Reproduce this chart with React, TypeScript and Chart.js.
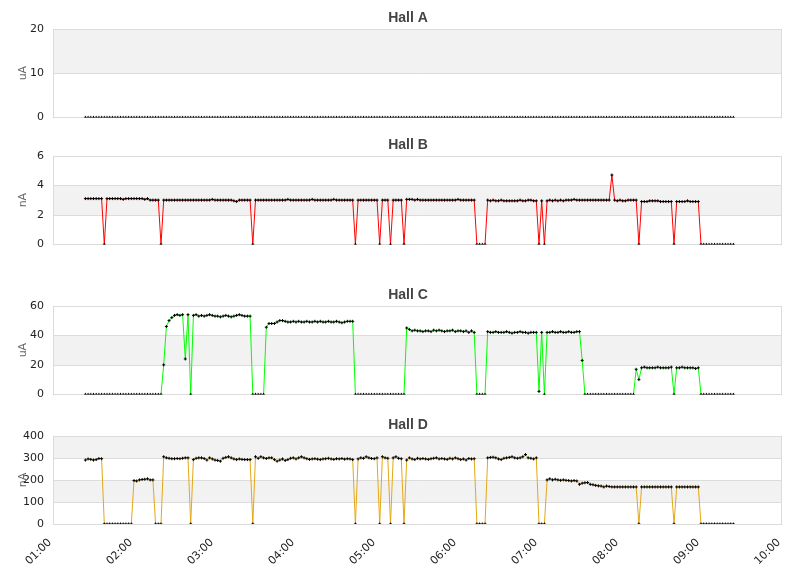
import React, { useEffect, useRef } from 'react';
import { Chart, registerables } from 'chart.js';
Chart.register(...registerables);

// sampling: first sample at 01:24, one sample every 2 minutes
const START_MIN = 84;
const STEP_MIN = 2;

const X_TICK_LABELS = ['01:00', '02:00', '03:00', '04:00', '05:00', '06:00', '07:00', '08:00', '09:00', '10:00'];

const hallA = [
  0, 0, 0, 0, 0, 0, 0, 0, 0, 0,
  0, 0, 0, 0, 0, 0, 0, 0, 0, 0,
  0, 0, 0, 0, 0, 0, 0, 0, 0, 0,
  0, 0, 0, 0, 0, 0, 0, 0, 0, 0,
  0, 0, 0, 0, 0, 0, 0, 0, 0, 0,
  0, 0, 0, 0, 0, 0, 0, 0, 0, 0,
  0, 0, 0, 0, 0, 0, 0, 0, 0, 0,
  0, 0, 0, 0, 0, 0, 0, 0, 0, 0,
  0, 0, 0, 0, 0, 0, 0, 0, 0, 0,
  0, 0, 0, 0, 0, 0, 0, 0, 0, 0,
  0, 0, 0, 0, 0, 0, 0, 0, 0, 0,
  0, 0, 0, 0, 0, 0, 0, 0, 0, 0,
  0, 0, 0, 0, 0, 0, 0, 0, 0, 0,
  0, 0, 0, 0, 0, 0, 0, 0, 0, 0,
  0, 0, 0, 0, 0, 0, 0, 0, 0, 0,
  0, 0, 0, 0, 0, 0, 0, 0, 0, 0,
  0, 0, 0, 0, 0, 0, 0, 0, 0, 0,
  0, 0, 0, 0, 0, 0, 0, 0, 0, 0,
  0, 0, 0, 0, 0, 0, 0, 0, 0, 0,
  0, 0, 0, 0, 0, 0, 0, 0, 0, 0,
  0, 0, 0, 0, 0, 0, 0, 0, 0, 0,
  0, 0, 0, 0, 0, 0, 0, 0, 0, 0,
  0, 0, 0, 0, 0, 0, 0, 0, 0, 0,
  0, 0, 0, 0, 0, 0, 0, 0, 0, 0,
  0,
];

const hallB = [
  3.1, 3.1, 3.1, 3.1, 3.1, 3.1, 3.1, 0, 3.1, 3.1,
  3.1, 3.1, 3.1, 3.1, 3.05, 3.1, 3.1, 3.1, 3.1, 3.1,
  3.1, 3.1, 3.05, 3.1, 3.0, 3.0, 3.0, 3.0, 0, 3.0,
  3.0, 3.0, 3.0, 3.0, 3.0, 3.0, 3.0, 3.0, 3.0, 3.0,
  3.0, 3.0, 3.0, 3.0, 3.0, 3.0, 3.0, 3.05, 3.0, 3.0,
  3.0, 3.0, 3.0, 3.0, 3.0, 2.95, 2.9, 3.0, 3.0, 3.0,
  3.0, 3.0, 0, 3.0, 3.0, 3.0, 3.0, 3.0, 3.0, 3.0,
  3.0, 3.0, 3.0, 3.0, 3.0, 3.05, 3.0, 3.0, 3.0, 3.0,
  3.0, 3.0, 3.0, 3.0, 3.05, 3.0, 3.0, 3.0, 3.0, 3.0,
  3.0, 3.0, 3.05, 3.0, 3.0, 3.0, 3.0, 3.0, 3.0, 3.0,
  0, 3.0, 3.0, 3.0, 3.0, 3.0, 3.0, 3.0, 3.0, 0,
  3.0, 3.0, 3.0, 0, 3.0, 3.0, 3.0, 3.0, 0, 3.05,
  3.05, 3.05, 3.0, 3.05, 3.0, 3.0, 3.0, 3.0, 3.0, 3.0,
  3.0, 3.0, 3.0, 3.0, 3.0, 3.0, 3.0, 3.0, 3.05, 3.0,
  3.0, 3.0, 3.0, 3.0, 3.0, 0, 0, 0, 0, 3.0,
  2.95, 3.0, 2.95, 2.95, 3.0, 2.95, 2.95, 2.95, 2.95, 2.95,
  2.95, 3.0, 2.95, 2.95, 3.0, 3.0, 2.95, 2.95, 0, 2.95,
  0, 2.95, 3.0, 2.95, 3.0, 2.95, 3.0, 2.95, 3.0, 3.0,
  3.0, 3.05, 3.0, 3.0, 3.0, 3.0, 3.0, 3.0, 3.0, 3.0,
  3.0, 3.0, 3.0, 3.0, 3.0, 4.7, 3.0, 2.95, 3.0, 2.95,
  2.95, 3.0, 3.0, 3.0, 3.0, 0, 2.9, 2.9, 2.9, 2.95,
  2.95, 2.95, 2.95, 2.9, 2.9, 2.9, 2.9, 2.9, 0, 2.9,
  2.9, 2.9, 2.9, 2.95, 2.9, 2.9, 2.9, 2.9, 0, 0,
  0, 0, 0, 0, 0, 0, 0, 0, 0, 0,
  0,
];

const hallC = [
  0, 0, 0, 0, 0, 0, 0, 0, 0, 0,
  0, 0, 0, 0, 0, 0, 0, 0, 0, 0,
  0, 0, 0, 0, 0, 0, 0, 0, 0, 20,
  46, 50, 52, 53.5, 54, 53.5, 54, 24, 54, 0,
  53.5, 54, 53, 53.5, 53, 53.5, 54, 53.5, 53, 53,
  52.5, 53, 53.5, 53, 52.5, 53, 53.5, 54, 53.5, 53,
  53, 53, 0, 0, 0, 0, 0, 45.5, 48, 48,
  48, 49, 50, 50, 49.5, 49, 49, 49.5, 49, 49.5,
  49, 49, 49.5, 49, 49, 49.5, 49, 49.5, 49, 49,
  49.5, 49, 49, 49.5, 49, 48.5, 49, 49.5, 49.5, 49.5,
  0, 0, 0, 0, 0, 0, 0, 0, 0, 0,
  0, 0, 0, 0, 0, 0, 0, 0, 0, 45,
  44, 43, 43.5, 43, 43, 42.5, 43, 43, 42.5, 43.5,
  43, 43.5, 43, 42.5, 43, 43, 43.5, 42.5, 43, 43,
  42.5, 43, 42, 43, 42, 0, 0, 0, 0, 42.5,
  42, 42, 42.5, 42, 42, 42, 42.5, 42, 41.5, 42,
  42, 42.5, 42, 42, 41.5, 42, 42, 42, 2, 42,
  0, 42, 42, 42.5, 42, 42, 42.5, 42, 42, 42.5,
  42, 42, 42.5, 42.5, 23, 0, 0, 0, 0, 0,
  0, 0, 0, 0, 0, 0, 0, 0, 0, 0,
  0, 0, 0, 0, 17, 10, 18, 18.5, 18, 18,
  18, 18, 18.5, 18, 18, 18, 18, 18.5, 0, 18,
  18, 18.5, 18, 18, 18, 18, 17.5, 18, 0, 0,
  0, 0, 0, 0, 0, 0, 0, 0, 0, 0,
  0,
];

const hallD = [
  290, 295, 293, 290, 292, 297, 296, 0, 0, 0,
  0, 0, 0, 0, 0, 0, 0, 0, 197, 195,
  200, 202, 203, 205, 200, 200, 0, 0, 0, 305,
  300, 298, 296, 296, 297, 296, 298, 300, 300, 0,
  292, 298, 300, 300, 297, 290, 300, 295, 290, 288,
  285, 298, 302, 305, 300, 295, 292, 295, 293, 292,
  292, 292, 0, 305, 298, 305, 300, 297, 300, 300,
  292, 285, 290, 295, 288, 292, 298, 300, 295, 300,
  305, 300, 296, 293, 295, 296, 294, 292, 295, 296,
  298, 295, 293, 296, 295, 297, 294, 296, 295, 292,
  0, 295, 300, 298, 305, 300, 297, 296, 300, 0,
  305, 300, 298, 0, 300, 305, 298, 296, 0, 290,
  300, 295, 292, 298, 295, 297, 295, 293, 296, 298,
  300, 295, 297, 295, 293, 298, 295, 300, 296, 292,
  295, 290, 297, 295, 296, 0, 0, 0, 0, 300,
  302, 303, 300, 295, 292, 298, 300, 302, 305, 300,
  298, 300, 305, 315, 300, 298, 295, 300, 0, 0,
  0, 200, 205, 200, 203, 200, 198, 200, 198, 197,
  195, 197, 195, 180, 185, 187, 188, 180, 178, 175,
  173, 172, 168, 172, 170, 168, 168, 168, 168, 168,
  168, 168, 168, 168, 168, 0, 168, 168, 168, 168,
  168, 168, 168, 168, 168, 168, 168, 168, 0, 168,
  168, 168, 168, 168, 168, 168, 168, 168, 0, 0,
  0, 0, 0, 0, 0, 0, 0, 0, 0, 0,
  0,
];

const PANELS = [
  { title: 'Hall A', unit: 'uA', values: hallA, max: 20, step: 10, color: '#000000', top: 0, height: 133, showX: false },
  { title: 'Hall B', unit: 'nA', values: hallB, max: 6, step: 2, color: '#ff0000', top: 127, height: 133, showX: false },
  { title: 'Hall C', unit: 'uA', values: hallC, max: 60, step: 20, color: '#00ff00', top: 277, height: 133, showX: false },
  { title: 'Hall D', unit: 'nA', values: hallD, max: 400, step: 100, color: '#e5a716', top: 407, height: 171, showX: true },
];

const TICK_FONT = { family: 'DejaVu Sans', size: 11 };

const panelPlugin = {
  id: 'panelBands',
  beforeDraw(chart: any) {
    const { ctx, chartArea: a, scales } = chart;
    const y = scales.y;
    const ticks = y.ticks;
    ctx.save();
    for (let k = 0; k < ticks.length - 1; k++) {
      if (k % 2 === 1) {
        const y0 = Math.round(y.getPixelForValue(ticks[k].value));
        const y1 = Math.round(y.getPixelForValue(ticks[k + 1].value));
        ctx.fillStyle = '#f2f2f2';
        ctx.fillRect(a.left, y1, a.right - a.left, y0 - y1);
      }
    }
    ctx.strokeStyle = '#dcdcdc';
    ctx.lineWidth = 1;
    for (const t of ticks) {
      const py = Math.round(y.getPixelForValue(t.value)) + 0.5;
      ctx.beginPath();
      ctx.moveTo(a.left, py);
      ctx.lineTo(a.right, py);
      ctx.stroke();
    }
    const l = Math.round(a.left) + 0.5;
    const r = Math.round(a.right) - 0.5;
    ctx.beginPath();
    ctx.moveTo(l, a.top);
    ctx.lineTo(l, a.bottom + 1);
    ctx.moveTo(r, a.top);
    ctx.lineTo(r, a.bottom + 1);
    ctx.stroke();
    ctx.restore();
  },
};

function buildConfig(p: any) {
  const data = p.values.map((v: number, i: number) => ({ x: START_MIN + i * STEP_MIN, y: v }));
  return {
    type: 'line',
    data: {
      datasets: [
        {
          data,
          borderColor: p.color,
          borderWidth: 1,
          tension: 0,
          pointStyle: 'cross',
          pointRadius: 1.5,
          pointBorderColor: '#000000',
          pointBackgroundColor: '#000000',
          pointBorderWidth: 1,
          segment: {
            borderColor: (ctx: any) =>
              ctx.p0.parsed.y === 0 && ctx.p1.parsed.y === 0 ? 'rgba(0,0,0,0)' : undefined,
          },
        },
      ],
    },
    options: {
      animation: false,
      responsive: false,
      maintainAspectRatio: false,
      layout: { padding: { left: 5, right: 0, top: 0, bottom: p.showX ? 0 : 10 } },
      plugins: {
        legend: { display: false },
        tooltip: { enabled: false },
        title: {
          display: true,
          text: p.title,
          color: '#444444',
          font: { family: 'Liberation Sans', size: 14, weight: 'bold' },
          padding: { top: 10, bottom: 2 },
        },
      },
      scales: {
        x: {
          type: 'linear',
          min: 60,
          max: 600,
          display: p.showX,
          grid: { display: false, drawTicks: false },
          border: { display: false },
          ticks: {
            stepSize: 60,
            autoSkip: false,
            maxRotation: 45,
            minRotation: 45,
            padding: 12,
            labelOffset: -3,
            color: '#222222',
            font: TICK_FONT,
            callback: (v: number) => X_TICK_LABELS[Math.round((v - 60) / 60)],
          },
          afterFit: (s: any) => {
            if (p.showX) s.height = 54;
          },
        },
        y: {
          min: 0,
          max: p.max,
          grid: { display: false, drawTicks: false },
          border: { display: false },
          ticks: { stepSize: p.step, padding: 9, color: '#222222', font: TICK_FONT },
          title: {
            display: true,
            text: p.unit,
            color: '#666666',
            font: { family: 'DejaVu Sans', size: 11 },
            padding: { top: 12, bottom: 0 },
          },
          afterFit: (s: any) => {
            s.width = 48;
          },
        },
        yRight: {
          position: 'right',
          min: 0,
          max: p.max,
          grid: { display: false, drawTicks: false },
          border: { display: false },
          ticks: { display: false },
          afterFit: (s: any) => {
            s.width = 29;
          },
        },
      },
    },
    plugins: [panelPlugin],
  };
}

function Panel({ p }: { p: any }) {
  const ref = useRef<HTMLCanvasElement>(null);
  useEffect(() => {
    if (!ref.current) return;
    const chart = new Chart(ref.current, buildConfig(p) as any);
    return () => chart.destroy();
  }, [p]);
  return (
    <canvas
      ref={ref}
      width={811}
      height={p.height}
      style={{ position: 'absolute', left: 0, top: p.top, width: 811, height: p.height }}
    />
  );
}

export default function App() {
  return (
    <div style={{ position: 'fixed', left: 0, top: 0, width: 811, height: 578, background: '#ffffff' }}>
      {PANELS.map((p) => (
        <Panel key={p.title} p={p} />
      ))}
    </div>
  );
}
